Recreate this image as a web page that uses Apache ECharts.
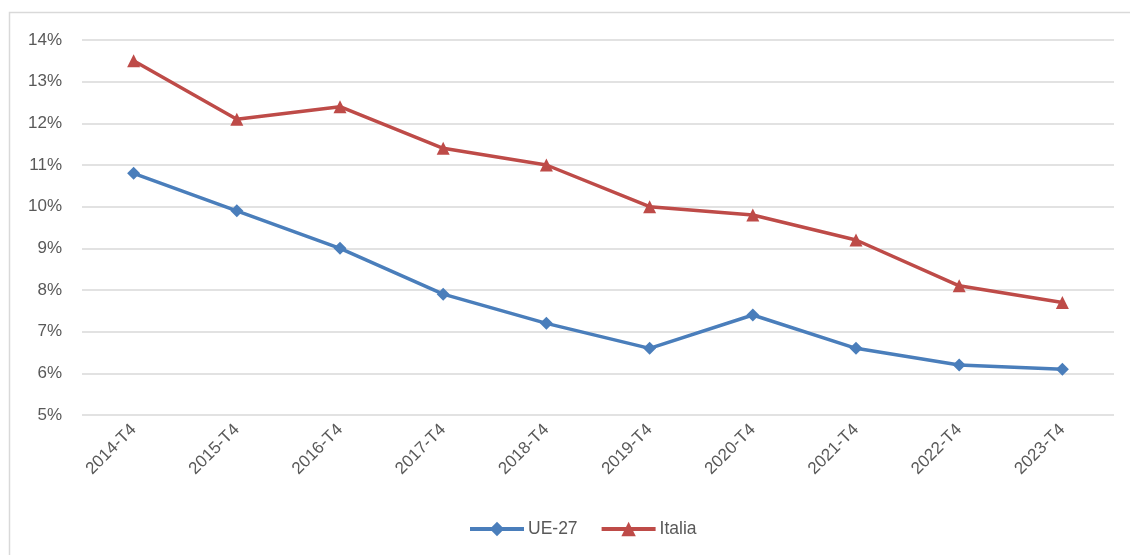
<!DOCTYPE html>
<html><head><meta charset="utf-8">
<script src="https://cdn.jsdelivr.net/npm/echarts@6/dist/echarts.min.js"></script>
<style>html,body{margin:0;padding:0;background:#fff}#c{width:1130px;height:555px}</style>
</head><body><div id="c"></div>
<script>
const categories = ['2014-T4','2015-T4','2016-T4','2017-T4','2018-T4','2019-T4','2020-T4','2021-T4','2022-T4','2023-T4'];
const ue27 = [10.8, 9.9, 9.0, 7.9, 7.2, 6.6, 7.4, 6.6, 6.2, 6.1];
const italia = [13.5, 12.1, 12.4, 11.4, 11.0, 10.0, 9.8, 9.2, 8.1, 7.7];
const font = '"Liberation Sans", Arial, sans-serif';
const chart = echarts.init(document.getElementById('c'));
chart.setOption({
  animation: false,
  graphic: [{type:'rect', left:7, top:10, shape:{width:1200, height:600}, style:{fill:'none', stroke:'#d9d9d9', lineWidth:1.5}, silent:true}],
  grid: {left:82, right:16, top:40, bottom:140, containLabel:false},
  xAxis: {type:'category', data:categories, boundaryGap:true,
    axisLine:{show:false}, axisTick:{show:false},
    axisLabel:{rotate:45, color:'#595959', fontSize:17, fontFamily:font, margin:12}},
  yAxis: {type:'value', min:5, max:14, interval:1,
    axisLabel:{formatter:'{value}%', color:'#595959', fontSize:17, fontFamily:font, margin:20},
    splitLine:{lineStyle:{color:'#d9d9d9', width:1.5}}, axisLine:{show:false}, axisTick:{show:false}},
  legend: {bottom:12, left:463, itemWidth:54, itemHeight:18, itemGap:22,
    lineStyle:{width:4},
    textStyle:{color:'#595959', fontSize:17.5, fontFamily:font, padding:[0,0,0,-1]},
    data:['UE-27','Italia']},
  series: [
    {name:'UE-27', type:'line', data:ue27, symbol:'diamond', symbolSize:13,
     lineStyle:{color:'#4A7EBB', width:3.5}, itemStyle:{color:'#4A7EBB'}},
    {name:'Italia', type:'line', data:italia, symbol:'triangle', symbolSize:13,
     lineStyle:{color:'#BE4B48', width:3.5}, itemStyle:{color:'#BE4B48'}}
  ]
});
</script></body></html>
